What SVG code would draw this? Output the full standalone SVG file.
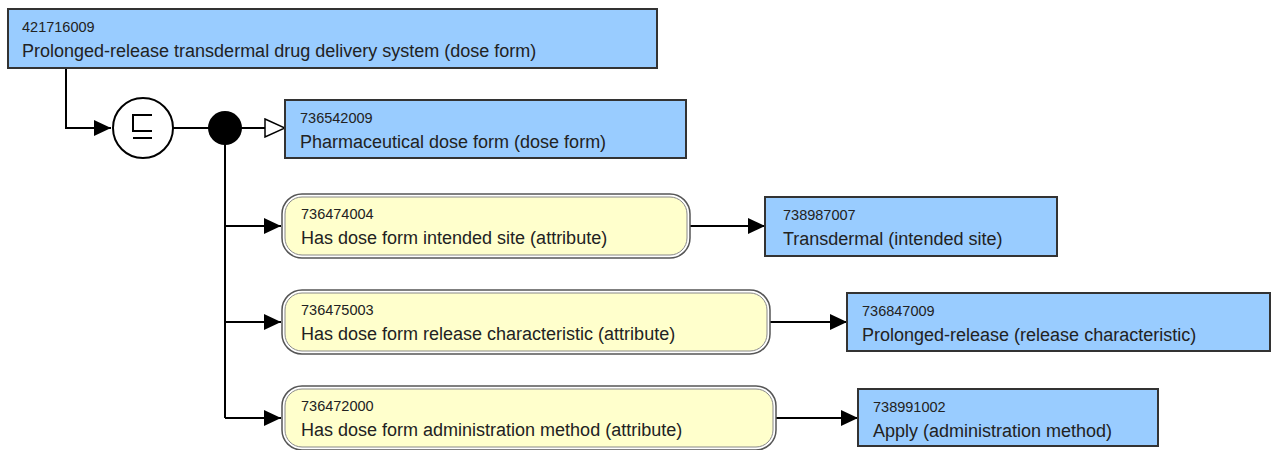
<svg xmlns="http://www.w3.org/2000/svg" width="1274" height="450" viewBox="0 0 1274 450">
<defs>
<marker id="fill" viewBox="0 0 17 16" refX="17" refY="8" markerWidth="17" markerHeight="16" markerUnits="userSpaceOnUse" orient="auto"><path d="M0,0 L17,8 L0,16 Z" fill="#000"/></marker>
<marker id="open" viewBox="0 0 22 20" refX="21" refY="10" markerWidth="22" markerHeight="20" markerUnits="userSpaceOnUse" orient="auto"><path d="M1,1 L21,10 L1,19 Z" fill="#fff" stroke="#000" stroke-width="1.5"/></marker>
</defs>
<style>
.c{fill:#99ccff;stroke:#333;stroke-width:2}
.ro{fill:#fff;stroke:#555;stroke-width:1.5}
.ri{fill:#ffffcc;stroke:#888;stroke-width:1}
.id{font-family:"Liberation Sans",Arial,sans-serif;font-size:14.5px;fill:#222}
.lb{font-family:"Liberation Sans",Arial,sans-serif;font-size:18px;fill:#222}
.ln{fill:none;stroke:#000;stroke-width:2}
</style>
<rect width="1274" height="450" fill="#fff"/>
<g id="connectors">
<path class="ln" d="M66,68 V128 H111" marker-end="url(#fill)"/>
<path class="ln" d="M173,128 H225"/>
<path class="ln" d="M240,128 H285" marker-end="url(#open)"/>
<path class="ln" d="M225,128 V418"/>
<path class="ln" d="M225,226 H281" marker-end="url(#fill)"/>
<path class="ln" d="M225,322 H281" marker-end="url(#fill)"/>
<path class="ln" d="M225,418 H281" marker-end="url(#fill)"/>
<path class="ln" d="M690,226 H765" marker-end="url(#fill)"/>
<path class="ln" d="M770,322 H847" marker-end="url(#fill)"/>
<path class="ln" d="M776,418 H858" marker-end="url(#fill)"/>
</g>
<g id="n421716009">
<rect class="c" x="8" y="9" width="649" height="59"/>
<text class="id" x="22" y="32">421716009</text>
<text class="lb" x="22" y="57">Prolonged-release transdermal drug delivery system (dose form)</text>
</g>
<g id="subsumption">
<circle cx="143" cy="128" r="30" fill="#fff" stroke="#000" stroke-width="2"/>
<path d="M152,115 H133 V131 H152 M133,138 H152" fill="none" stroke="#000" stroke-width="2"/>
</g>
<g id="conjunction">
<circle cx="225" cy="128" r="17" fill="#000"/>
</g>
<g id="n736542009">
<rect class="c" x="285" y="100" width="401" height="58"/>
<text class="id" x="300" y="123">736542009</text>
<text class="lb" x="300" y="148">Pharmaceutical dose form (dose form)</text>
</g>
<g id="n736474004">
<rect class="ro" x="282" y="194" width="408" height="64" rx="20"/>
<rect class="ri" x="285" y="197" width="402" height="58" rx="17"/>
<text class="id" x="301" y="219">736474004</text>
<text class="lb" x="301" y="244">Has dose form intended site (attribute)</text>
</g>
<g id="n738987007">
<rect class="c" x="765" y="197" width="292" height="59"/>
<text class="id" x="783" y="220">738987007</text>
<text class="lb" x="783" y="245">Transdermal (intended site)</text>
</g>
<g id="n736475003">
<rect class="ro" x="282" y="290" width="488" height="64" rx="20"/>
<rect class="ri" x="285" y="293" width="482" height="58" rx="17"/>
<text class="id" x="301" y="315">736475003</text>
<text class="lb" x="301" y="340">Has dose form release characteristic (attribute)</text>
</g>
<g id="n736847009">
<rect class="c" x="847" y="293" width="423" height="58"/>
<text class="id" x="862" y="316">736847009</text>
<text class="lb" x="862" y="341">Prolonged-release (release characteristic)</text>
</g>
<g id="n736472000">
<rect class="ro" x="282" y="386" width="494" height="64" rx="20"/>
<rect class="ri" x="285" y="389" width="488" height="58" rx="17"/>
<text class="id" x="301" y="411">736472000</text>
<text class="lb" x="301" y="436">Has dose form administration method (attribute)</text>
</g>
<g id="n738991002">
<rect class="c" x="858" y="389" width="300" height="57"/>
<text class="id" x="873" y="412">738991002</text>
<text class="lb" x="873" y="437">Apply (administration method)</text>
</g>
</svg>
